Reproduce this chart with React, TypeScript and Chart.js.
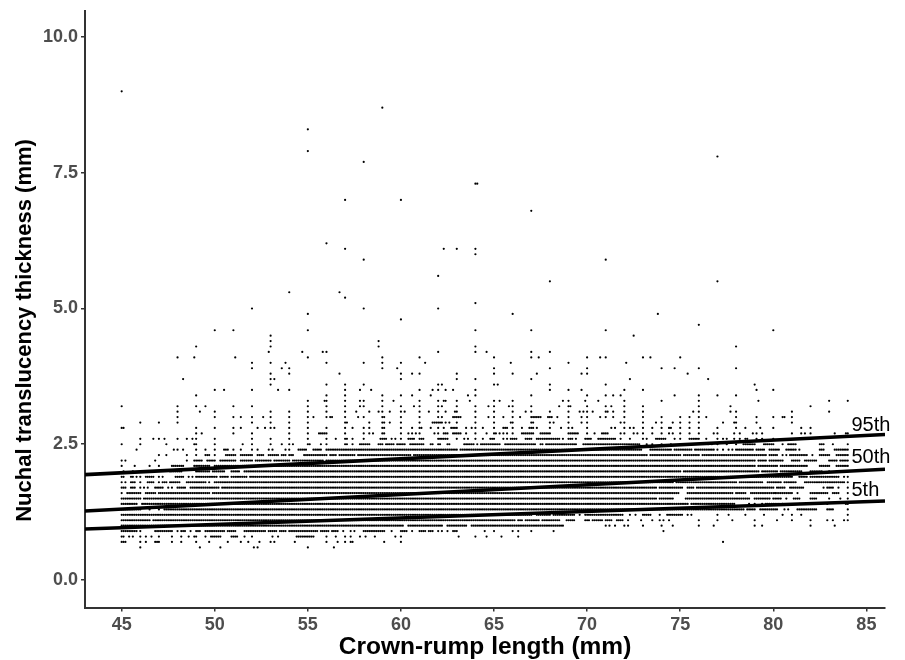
import React, { useEffect, useRef } from "react";
import { Chart, registerables } from "chart.js";

Chart.register(...registerables);

type Cell = number | [number, number];

// Each NT row (mm) lists the CRL readings seen on it; a pair is a solid run on the 0.1 mm grid.
const nt06: Cell[] = [46, 49.2, 50.3, 52.1, 52.3, 55, 56.4];
const nt07: Cell[] = [45, 45.1, 45.2, 46, 46.3, [46.8, 47], 47.7, 48.2, 49, 49.7, 50.7, 51.4, 51.8, 52.4, 53, 53.2, 54.3, 56, 56.6, 57, 57.3, 57.4, 59.1, 60, 77.3];
const nt08: Cell[] = [45, 45.1, 45.4, 45.6, 46, 46.3, 46.6, 47, 47.7, 48.2, 48.6, 48.9, 49, 49.5, [49.8, 50.3], [50.9, 51.2], 51.6, 52, 53.1, 53.4, [54.4, 55.3], 56, 56.5, 57, 57.3, 57.8, 58.1, 58.6, 59.7, 60, 63.1, 64, 64.6, 65.4, 66.3];
const nt09: Cell[] = [[45, 45.3], [45.4, 45.8], 46, [46.8, 47.7], 48, [48.2, 48.4], 48.7, [49, 49.2], [49.5, 50.5], [50.7, 51.1], [51.6, 52.3], [52.4, 52.7], [52.9, 53.3], [53.5, 53.8], [54, 55], [55.1, 55.5], [55.7, 56.1], [56.3, 56.6], 56.9, 57.3, 57.5, [58, 58.5], [58.6, 59.1], 59.5, [60, 60.3], 60.6, [61, 61.3], [61.5, 61.7], 62, 62.2, 62.5, [62.8, 63], 64.5, 65, 66, 66.3, 67, 68.2, 74.1];
const nt10: Cell[] = [[45, 60.1], [60.4, 62.2], [62.5, 63.5], [63.8, 68.7], 71, 71.2, 71.5, 72, 72.2, 73, 74, 74.6, 76, 76.8, 79, 79.4, 82, 83.3];
const nt11: Cell[] = [[45, 45.6], [45.7, 46.5], [46.7, 47.1], [47.2, 63.7], [63.8, 64.2], [64.3, 64.8], [64.9, 65.8], [65.9, 66.1], [66.3, 66.5], [66.7, 67.4], [67.6, 68.1], [68.2, 68.5], [68.9, 69.3], [69.9, 70.1], [70.3, 70.8], [71, 71.2], 71.3, [71.6, 71.9], 72.2, 72.9, 73.5, 73.9, 74.1, 74.4, 76, 77, 77.8, 79, 80.2, 81, 82, 82.9, 83.2, 83.8, 84];
const nt12: Cell[] = [[45, 67], [67.3, 68], [68.2, 69.3], 69.6, [69.9, 71.9], 72.3, 72.6, [73, 73.4], 73.9, [74.3, 75.1], 75.4, 75.6, 77, 77.6, 78.5, 79.5, 80.5, 81, 81.5, 84];
const nt13: Cell[] = [[45, 46], 46.5, 47, [47.3, 78.4], [78.6, 79], [79.3, 80.2], 80.6, 80.8, [81.3, 82.3], [82.9, 83.2], 84];
const nt14: Cell[] = [[45, 45.2], [45.3, 45.8], [46.1, 73], [73.1, 74], [74.1, 75.4], [75.6, 77.9], 78.7, 79, 79.4, [79.6, 80.3], 80.5, 81.4, 81.8, 82.1, 82.9, 83.9, 84];
const nt15: Cell[] = [[45, 46], [46.2, 47], [47.1, 47.7], [47.8, 73.7], [73.9, 74.6], [75.3, 78.7], [79, 79.8], [80, 80.4], 80.7, [81.1, 81.4], [82, 82.3], 83, 83.6, 84];
const nt16: Cell[] = [45, [45.3, 46], [46.3, 46.8], [47, 49.7], [49.9, 74.9], [75.4, 77.8], [78, 78.5], [78.8, 80.1], [80.1, 81], 81.3, [82, 82.9], [83.2, 83.5], 84];
const nt17: Cell[] = [[45, 45.2], [45.5, 45.7], 46, 46.2, 46.4, [46.8, 47.2], 47.5, 47.7, [48, 48.4], [48.7, 50.2], [50.4, 51.1], [51.2, 73.7], [73.9, 75.1], [75.4, 75.7], [75.9, 79.6], [79.7, 80], [80.2, 80.6], [80.9, 81.6], 82.7, [82.9, 83.2], 83.5, 84];
const nt18: Cell[] = [45, 45.2, [45.5, 45.7], 46, [46.4, 46.7], 47, [47.2, 47.4], [47.6, 48.1], [48.5, 49.5], 49.7, [50, 74.6], [74.8, 78], [78.2, 79.4], [79.7, 80.4], [80.6, 81.2], [81.7, 83], [83.1, 83.7], 83.8, 84];
const nt19: Cell[] = [[45, 45.1], [45.5, 45.6], 45.8, 46, [46.3, 46.7], 47, 47.2, [47.9, 48.3], 48.6, 48.8, [49, 50.1], [50.3, 50.7], [50.9, 51.7], [51.9, 81], [81.4, 81.8], [82, 83.5], 83.8, 84];
const nt20: Cell[] = [45.1, 45.6, 46.4, [47.6, 48.2], [49, 49.7], [49.9, 50.5], [50.9, 51.3], [51.6, 75], [75.2, 79.2], [79.4, 80.2], [80.4, 81.5], [82, 82.6], 83, [83.4, 83.9], 84];
const nt21: Cell[] = [45, 45.7, 46.5, 47, [47.7, 48.3], [48.9, 49.7], [50, 50.7], [50.8, 75.9], [76, 79], [79.2, 80.2], [80.4, 81.8], [82.5, 83], [83.4, 84]];
const nt22: Cell[] = [45, 45.2, 46.8, 48.5, [48.9, 49.3], [49.6, 50], [50.3, 51.1], [51.4, 52], [52.2, 53], [53.2, 54], [54.2, 55], [55.1, 55.8], [56, 79], [79.2, 79.6], [79.8, 80.5], [81, 81.4], [81.7, 82.3], [83, 83.4], [83.6, 84]];
const nt23: Cell[] = [47, 47.4, 48.5, 49, [49.5, 49.7], 50, [50.6, 51.1], [51.4, 52], [52.3, 52.6], [52.9, 53.4], [53.6, 53.8], [54, 54.2], [54.8, 56], [56.2, 56.5], [56.7, 57.5], [57.7, 58.3], [58.4, 60], [60.1, 60.5], 60.7, [60.8, 73.2], [73.4, 75], [75.2, 76], [76.2, 77.6], [77.7, 79.6], [79.8, 80.2], 80.5, 80.7, [80.9, 81.8], 82.1, [82.5, 83], [83.4, 84]];
const nt24: Cell[] = [45.8, 47.8, 48, 48.3, 49, 49.5, 50, [50.5, 50.7], 51, 51.4, 52, 52.3, 52.9, 53.1, 53.8, 54, [54.5, 54.9], [55.3, 55.6], 55.7, [56, 56.2], [56.3, 58.2], [58.3, 59.5], [59.6, 59.9], [60, 63], [63.2, 65.1], [65.2, 65.6], [65.7, 66.2], [66.3, 72.9], [73.4, 74.5], [74.7, 75.6], [75.8, 76.8], 77, 77.3, 77.6, 77.8, [78, 78.9], [79.1, 79.5], [79.8, 80.3], [80.7, 81.2], 81.4, [82.5, 82.7], [83.3, 83.9], 84];
const nt25: Cell[] = [45, 46, 47.4, 48.9, 49, 50, 51.5, 52, 53, 53.6, 54, 54.2, 55, 55.1, 55.7, 56, 57, 57.1, 57.4, [57.8, 58.3], [58.8, 59], [59.2, 59.6], [59.8, 60.2], [60.5, 60.7], [60.8, 61.2], [61.6, 61.7], [62, 62.1], [62.5, 62.6], [63.4, 63.9], 64.1, [64.3, 65], [65.1, 65.3], [65.6, 66.2], [66.3, 66.7], [66.8, 67.2], [67.5, 67.6], [67.8, 69.4], [69.8, 72.8], 73.2, 73.5, 74, 74.5, 75.5, 76.5, 76.7, 77, 77.5, 78, [78.4, 79], [79.5, 80], 80.5, [80.8, 81.2], [82.5, 82.7], 83.2, 84];
const nt26: Cell[] = [46, 46.7, 47, 47.3, 48, 48.5, 48.8, 49, 50, 52, 53, 54, 55, 56, 56.5, 57, 57.1, 57.4, 58, [58.9, 59.2], 59.5, 59.7, 60, [60.4, 60.7], [61, 61.2], [62, 62.5], 63, 63.4, 63.6, 64, 64.4, [64.8, 65], 65.5, 65.7, [65.9, 66.2], [66.7, 67], [67.3, 68.5], 68.7, [69, 69.2], 69.4, [69.9, 70.2], [70.6, 71.5], 71.8, 72.3, 73, 73.2, [73.7, 74.2], 74.7, 75, [75.5, 76], 76.4, 77, 77.3, 77.5, 77.9, 78.2, 78.5, 78.6, 79.1, 79.4, 80];
const nt27: Cell[] = [49, 49.3, 51, 52, 54, 55, [55.6, 55.9], 56, 57, 58, 58.3, 58.5, 59, 59.1, 60, 60.4, 60.6, 60.8, 61, 61.8, 62, [62.3, 62.5], [62.8, 63.2], 63.5, 64, 64.6, 65, 65.1, 65.3, 65.5, 65.7, 66, [66.5, 67.1], [67.5, 68], [69, 69.5], 70, 70.4, [70.8, 71.1], 71.8, 72, 72.5, 72.7, 73, 73.5, 74, 74.4, 74.6, 75, 75.5, 76, 76.8, 77, 77.9, 78.2, 78.9, 79.1, 79.4, 81, 81.5, 81.7, 82, 83.3, 83.9, 84];
const nt28: Cell[] = [45, 45.1, 49, 50, 51, 51.4, 52.3, 52.7, 53, 53.2, 54, 55, 56, 57, 57.4, 58, 58.3, 59, 59.1, 60, 60.6, 61, 61.1, 61.6, 62, 62.3, [62.7, 63], 63.5, 63.8, 64, 64.4, 65, [65.5, 65.7], 66, 66.5, [66.9, 67.1], 67.3, 68, 68.6, 69, 69.2, 70, 71.3, 71.5, 72, 72.3, 72.5, 73, 73.5, 74, 74.4, 74.5, 75, 75.5, 76, 77, 78, 78.5, 79.3, 80, 81.5, 82];
const nt29: Cell[] = [46, 47, 48, 52, 53, 54, 55, 57, 57.1, 58.3, 59, 59.1, 59.4, 60, 61, [61.7, 62.2], 62.4, 62.6, 63, 64, 65, 65.9, 66, 67, 67.1, 68, 68.2, 69, 69.7, 70, 71.8, 72, 73, 73.7, 74, 74.6, 75, 75.5, 76, 77.3, 77.9, 78, 79.1, 81];
const nt30: Cell[] = [48, 50, 51, 51.4, 52, 52.6, 53, 54, 55, 55.3, 56, 56.2, 56.3, 57, 57.7, 58, 59, 59.1, 60, 61, 62, 62.2, [62.8, 63.2], 64, 64.7, 65, 65.5, 66, 66.4, [67, 67.5], [67.9, 68.1], 68.4, 69, 69.7, 70, 70.7, 71, 71.4, 72, 73, 74, 75, 75.5, 76, 76.4, 78, 79.1, 80, 80.5, 80.6, 81];
const nt31: Cell[] = [48, 49.2, 50, 53, 54, 55, 56, 57, 57.6, 58.3, 58.8, 59, 59.4, 60, 60.2, 61, 61.5, 62, 62.4, 62.9, 63, 64, 65, 66, 66.7, 67, 68, 69, 69.6, 69.8, 70, 70.3, 71, 71.1, 71.4, 72, 73, 75.7, 76, 77.7, 78, 81, 83];
const nt32: Cell[] = [45, 48, 49, 49.5, 51, 52, 55, 56, 57, 57.8, 58, 59, 60, 60.7, 61, 62, 62.2, 63, 64, 64.7, 65, 65.8, 66, 67, 68.5, 69, 69.1, 70, 71, 71.3, 72, 73, 76, 77.7, 82];
const nt33: Cell[] = [55, 55.9, 56, 57, 57.8, 58, 59, 59.6, 61, 62, 62.3, 62.4, 63, 63.7, 65, 65.3, 66, 68.7, 69, 69.9, 70.6, 72, 74, 76, 79.2, 83, 84];
const nt34: Cell[] = [49, 56, 57, 59, 60, 60.6, 61.6, 63.6, 64, 67, 70, 71, 71.4, 71.8, 74.7, 76, 77, 78];
const nt35: Cell[] = [50, 50.5, 52, 53.4, 54, 57, 57.8, 58.4, 61, 61.7, 62, 62.4, 62.8, 64, 68, 69, 69.7, 72, 73, 79.1, 80];
const nt36: Cell[] = [53, 56, 57, 58, 62, 62.2, 65, 65.2, 68, 71, 79];
const nt37: Cell[] = [48.3, 53, 53.2, 60, 63, 64, 67, 72.3, 76.5];
const nt38: Cell[] = [53, 54, 56.7, 60, 60.6, 61, 63, 65, 66, 67.3, 69.7, 70, 75.4];
const nt39: Cell[] = [52, 53.6, 54, 59, 59.8, 65, 68, 70, 74, 74.7, 76, 78];
const nt40: Cell[] = [52, 53, 53.8, 56, 58, 59, 60, 61.3, 65.9, 69, 72.1];
const nt41: Cell[] = [48, 48.9, 51.1, 55, 59, 61, 65, 67, 67.4, 70, 70.7, 71, 73, 73.4, 75];
const nt42: Cell[] = [52.9, 54.7, 55.8, 56, 62, 64, 64.6, 67, 68];
const nt43: Cell[] = [49, 53, 58.8, 64, 78];
const nt44: Cell[] = [53, 58.8];
const nt45: Cell[] = [53, 72.5];
const nt46: Cell[] = [50, 51, 55, 64, 67, 71, 80];
const nt47: Cell[] = [76];
const nt48: Cell[] = [60];
const nt49: Cell[] = [55, 66, 73.8];
const nt50: Cell[] = [52, 58, 62];
const nt51: Cell[] = [64];
const nt52: Cell[] = [57];
const nt53: Cell[] = [54, 56.7];
const nt55: Cell[] = [68, 77];
const nt56: Cell[] = [62];
const nt59: Cell[] = [58, 71];
const nt60: Cell[] = [64];
const nt61: Cell[] = [57, 62.3, 63, 64];
const nt62: Cell[] = [56];
const nt68: Cell[] = [67];
const nt70: Cell[] = [57, 60];
const nt73: Cell[] = [64, 64.1];
const nt77: Cell[] = [58];
const nt78: Cell[] = [77];
const nt79: Cell[] = [55];
const nt83: Cell[] = [55];
const nt87: Cell[] = [59];
const nt90: Cell[] = [45];

const rowTable: [number, Cell[]][] = [
  [0.6, nt06], [0.7, nt07], [0.8, nt08], [0.9, nt09], [1.0, nt10], [1.1, nt11], [1.2, nt12], [1.3, nt13],
  [1.4, nt14], [1.5, nt15], [1.6, nt16], [1.7, nt17], [1.8, nt18], [1.9, nt19], [2.0, nt20], [2.1, nt21],
  [2.2, nt22], [2.3, nt23], [2.4, nt24], [2.5, nt25], [2.6, nt26], [2.7, nt27], [2.8, nt28], [2.9, nt29],
  [3.0, nt30], [3.1, nt31], [3.2, nt32], [3.3, nt33], [3.4, nt34], [3.5, nt35], [3.6, nt36], [3.7, nt37],
  [3.8, nt38], [3.9, nt39], [4.0, nt40], [4.1, nt41], [4.2, nt42], [4.3, nt43], [4.4, nt44], [4.5, nt45],
  [4.6, nt46], [4.7, nt47], [4.8, nt48], [4.9, nt49], [5.0, nt50], [5.1, nt51], [5.2, nt52], [5.3, nt53],
  [5.5, nt55], [5.6, nt56], [5.9, nt59], [6.0, nt60], [6.1, nt61], [6.2, nt62], [6.8, nt68], [7.0, nt70],
  [7.3, nt73], [7.7, nt77], [7.8, nt78], [7.9, nt79], [8.3, nt83], [8.7, nt87], [9.0, nt90],
];

// Percentile reference lines: CRL ends and NT at those ends
const lineCrl = [43.03, 86];
const p95 = [1.94, 2.68];
const p50 = [1.27, 2.04];
const p5 = [0.94, 1.455];

const percentileLabels = ["95th", "50th", "5th"];
const labelCrl = [84.2, 84.2, 84.2];
const labelNt = [2.84, 2.25, 1.64];

const xTitle = "Crown-rump length (mm)";
const yTitle = "Nuchal translucency thickness (mm)";

function expandRows() {
  const pts: { x: number; y: number }[] = [];
  for (const [nt, cells] of rowTable) {
    for (const c of cells) {
      if (typeof c === "number") pts.push({ x: c, y: nt });
      else for (let t = Math.round(c[0] * 10); t <= Math.round(c[1] * 10); t++) pts.push({ x: t / 10, y: nt });
    }
  }
  return pts;
}

const line = (ys: number[]) => ({
  type: "line" as const,
  data: lineCrl.map((x, i) => ({ x, y: ys[i] })),
  borderColor: "#000",
  borderWidth: 3.6,
  pointRadius: 0,
  showLine: true,
  order: 0,
});

const labelPlugin = {
  id: "chartTexts",
  afterDraw(chart: any) {
    const { ctx, scales } = chart;
    ctx.save();
    ctx.fillStyle = "#000";
    ctx.textBaseline = "middle";
    ctx.font = '20px "Liberation Sans"';
    ctx.textAlign = "left";
    percentileLabels.forEach((s, i) => ctx.fillText(s, scales.x.getPixelForValue(labelCrl[i]), scales.y.getPixelForValue(labelNt[i])));
    ctx.textAlign = "center";
    ctx.font = 'bold 24.5px "Liberation Sans"';
    ctx.fillText(xTitle, 485, 647);
    ctx.translate(25, 330.5);
    ctx.rotate(-Math.PI / 2);
    ctx.font = 'bold 22px "Liberation Sans"';
    ctx.fillText(yTitle, 0, 0);
    ctx.restore();
  },
};

export default function App() {
  const ref = useRef<HTMLCanvasElement>(null);
  useEffect(() => {
    const chart = new Chart(ref.current!, {
      type: "scatter",
      data: {
        datasets: [
          { data: expandRows(), backgroundColor: "#000", borderWidth: 0, pointRadius: 1.1, pointStyle: "circle", order: 1 },
          line(p95) as any,
          line(p50) as any,
          line(p5) as any,
        ],
      },
      options: {
        animation: false,
        responsive: false,
        layout: { padding: { top: 11, right: 20, left: 0, bottom: 0 }, autoPadding: false },
        plugins: { legend: { display: false }, tooltip: { enabled: false } },
        scales: {
          x: {
            type: "linear",
            min: 43.03,
            max: 86,
            afterFit: (s: any) => { s.height = 52.5; s.paddingLeft = 0; s.paddingRight = 0; },
            border: { color: "#333", width: 2 },
            grid: { drawOnChartArea: false, drawTicks: true, tickLength: 4, tickColor: "#333", lineWidth: 1.5 },
            ticks: { stepSize: 5, includeBounds: false, maxRotation: 0, padding: 3, color: "#4d4d4d", font: { family: "Liberation Sans", size: 18, weight: "bold" } },
          },
          y: {
            type: "linear",
            min: -0.507,
            max: 10.48,
            afterFit: (s: any) => { s.width = 85; s.paddingTop = 0; s.paddingBottom = 0; },
            border: { color: "#333", width: 2 },
            grid: { drawOnChartArea: false, drawTicks: true, tickLength: 4, tickColor: "#333", lineWidth: 1.5 },
            ticks: { stepSize: 2.5, includeBounds: false, padding: 3, color: "#4d4d4d", font: { family: "Liberation Sans", size: 18, weight: "bold" }, callback: (v: any) => Number(v).toFixed(1) },
          },
        },
      },
      plugins: [labelPlugin],
    } as any);
    return () => chart.destroy();
  }, []);
  return (
    <div style={{ position: "fixed", left: 0, top: 0, width: 905, height: 660, background: "#fff" }}>
      <canvas ref={ref} width={905} height={660} style={{ display: "block" }} />
    </div>
  );
}
